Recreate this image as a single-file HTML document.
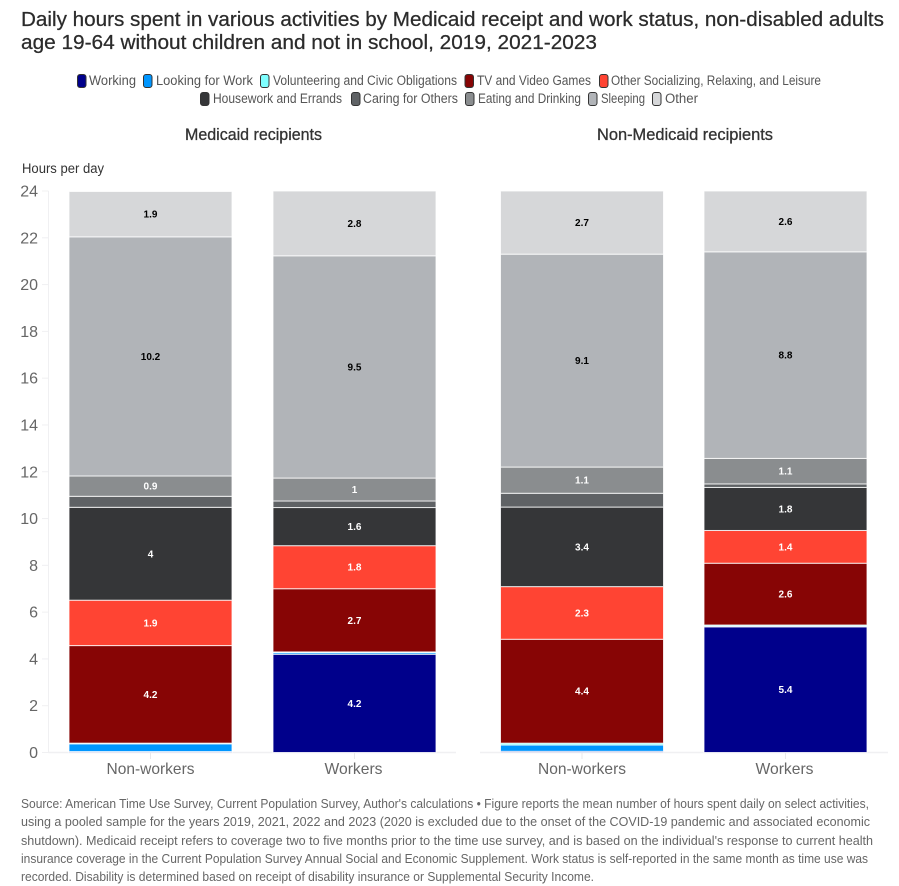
<!DOCTYPE html>
<html lang="en">
<head>
<meta charset="utf-8">
<title>Daily hours spent in various activities</title>
<style>
html,body{margin:0;padding:0;background:#fff;}
svg{display:block;font-family:"Liberation Sans",sans-serif;}
</style>
</head>
<body>
<svg id="chart" width="899" height="886" viewBox="0 0 899 886" xmlns="http://www.w3.org/2000/svg">
  <rect x="0" y="0" width="899" height="886" fill="#ffffff"/>
  <g fill="#2b2b2b" font-size="20" stroke="#2b2b2b" stroke-width="0.25">
    <text x="21" y="26" textLength="863" lengthAdjust="spacingAndGlyphs">Daily hours spent in various activities by Medicaid receipt and work status, non-disabled adults</text>
    <text x="21" y="49" textLength="576" lengthAdjust="spacingAndGlyphs">age 19-64 without children and not in school, 2019, 2021-2023</text>
  </g>
  <g font-size="13.5" fill="#555">
    <g><rect x="77.5" y="74.5" width="8.5" height="13" rx="2.5" fill="#00008b" stroke="#333"/><text x="89" y="85" textLength="47" lengthAdjust="spacingAndGlyphs">Working</text></g>
    <g><rect x="143.5" y="74.5" width="8.5" height="13" rx="2.5" fill="#0096ff" stroke="#333"/><text x="156" y="85" textLength="97" lengthAdjust="spacingAndGlyphs">Looking for Work</text></g>
    <g><rect x="260.5" y="74.5" width="8.5" height="13" rx="2.5" fill="#7fffff" stroke="#333"/><text x="273" y="85" textLength="184" lengthAdjust="spacingAndGlyphs">Volunteering and Civic Obligations</text></g>
    <g><rect x="465" y="74.5" width="8.5" height="13" rx="2.5" fill="#870505" stroke="#333"/><text x="477" y="85" textLength="114" lengthAdjust="spacingAndGlyphs">TV and Video Games</text></g>
    <g><rect x="599.5" y="74.5" width="8.5" height="13" rx="2.5" fill="#ff4433" stroke="#333"/><text x="611" y="85" textLength="210" lengthAdjust="spacingAndGlyphs">Other Socializing, Relaxing, and Leisure</text></g>
    <g><rect x="200.5" y="92.5" width="8.5" height="13" rx="2.5" fill="#353638" stroke="#333"/><text x="213" y="103" textLength="129" lengthAdjust="spacingAndGlyphs">Housework and Errands</text></g>
    <g><rect x="351.5" y="92.5" width="8.5" height="13" rx="2.5" fill="#5f6265" stroke="#333"/><text x="363" y="103" textLength="95" lengthAdjust="spacingAndGlyphs">Caring for Others</text></g>
    <g><rect x="465.5" y="92.5" width="8.5" height="13" rx="2.5" fill="#8a8d8f" stroke="#333"/><text x="478" y="103" textLength="103" lengthAdjust="spacingAndGlyphs">Eating and Drinking</text></g>
    <g><rect x="588.5" y="92.5" width="8.5" height="13" rx="2.5" fill="#b1b4b8" stroke="#333"/><text x="601" y="103" textLength="44" lengthAdjust="spacingAndGlyphs">Sleeping</text></g>
    <g><rect x="652.5" y="92.5" width="8.5" height="13" rx="2.5" fill="#d6d7d9" stroke="#333"/><text x="665" y="103" textLength="33" lengthAdjust="spacingAndGlyphs">Other</text></g>
  </g>
  <text x="185" y="140" font-size="16.5" fill="#333" stroke="#333" stroke-width="0.3" textLength="137" lengthAdjust="spacingAndGlyphs">Medicaid recipients</text>
  <text x="597" y="140" font-size="16.5" fill="#333" stroke="#333" stroke-width="0.3" textLength="176" lengthAdjust="spacingAndGlyphs">Non-Medicaid recipients</text>
  <text x="22" y="173" font-size="13.5" fill="#333" textLength="82" lengthAdjust="spacingAndGlyphs">Hours per day</text>
  <g id="axes"></g>
  <g id="bars"></g>
  <g id="value-labels"></g>
  <g font-size="13" fill="#666">
    <text x="21" y="808" textLength="848" lengthAdjust="spacingAndGlyphs">Source: American Time Use Survey, Current Population Survey, Author's calculations • Figure reports the mean number of hours spent daily on select activities,</text>
    <text x="21" y="826" textLength="849" lengthAdjust="spacingAndGlyphs">using a pooled sample for the years 2019, 2021, 2022 and 2023 (2020 is excluded due to the onset of the COVID-19 pandemic and associated economic</text>
    <text x="21" y="845" textLength="852" lengthAdjust="spacingAndGlyphs">shutdown). Medicaid receipt refers to coverage two to five months prior to the time use survey, and is based on the individual's response to current health</text>
    <text x="21" y="863" textLength="847" lengthAdjust="spacingAndGlyphs">insurance coverage in the Current Population Survey Annual Social and Economic Supplement. Work status is self-reported in the same month as time use was</text>
    <text x="21" y="881" textLength="573" lengthAdjust="spacingAndGlyphs">recorded. Disability is determined based on receipt of disability insurance or Supplemental Security Income.</text>
  </g>
</svg>
<script>
// Order of values in each series: Medicaid non-workers, Medicaid workers, Non-Medicaid non-workers, Non-Medicaid workers
const categories = ["Non-workers", "Workers", "Non-workers", "Workers"];
const working = [0.04, 4.2, 0.05, 5.37];
const lookingForWork = [0.33, 0.07, 0.27, 0.03];
const volunteering = [0.03, 0.03, 0.08, 0.05];
const tvAndGames = [4.17, 2.7, 4.44, 2.64];
const socializing = [1.94, 1.84, 2.25, 1.4];
const housework = [3.97, 1.63, 3.4, 1.84];
const caring = [0.47, 0.28, 0.59, 0.15];
const eating = [0.87, 0.98, 1.12, 1.09];
const sleeping = [10.22, 9.5, 9.1, 8.83];
const other = [1.94, 2.77, 2.7, 2.6];
const yTicks = [0, 2, 4, 6, 8, 10, 12, 14, 16, 18, 20, 22, 24];

const seriesList = [
  {name: "working", values: working, color: "#00008b", text: "#fff"},
  {name: "looking-for-work", values: lookingForWork, color: "#0096ff", text: "#fff"},
  {name: "volunteering", values: volunteering, color: "#7fffff", text: "#000"},
  {name: "tv-and-games", values: tvAndGames, color: "#870505", text: "#fff"},
  {name: "socializing", values: socializing, color: "#ff4433", text: "#fff"},
  {name: "housework", values: housework, color: "#353638", text: "#fff"},
  {name: "caring", values: caring, color: "#5f6265", text: "#fff"},
  {name: "eating", values: eating, color: "#8a8d8f", text: "#fff"},
  {name: "sleeping", values: sleeping, color: "#b1b4b8", text: "#000"},
  {name: "other", values: other, color: "#d6d7d9", text: "#000"}
];

const NS = "http://www.w3.org/2000/svg";
const plotBottom = 752.5;
const plotTop = 191;
const yMax = 24;
const barWidth = 163;
const panels = [
  {axisLeft: 48.5, axisRight: 456, start: 69, step: 204},
  {axisLeft: 480, axisRight: 888, start: 500.5, step: 203.5}
];

function yScale(v) {
  return plotBottom - (v / yMax) * (plotBottom - plotTop);
}
function barLeft(i) {
  const panel = panels[i < 2 ? 0 : 1];
  return panel.start + (i % 2) * panel.step;
}
function formatValue(v) {
  return String(Math.round(v * 10) / 10);
}
function make(tag, attrs, parent) {
  const el = document.createElementNS(NS, tag);
  for (const k in attrs) el.setAttribute(k, attrs[k]);
  parent.appendChild(el);
  return el;
}

const axesGroup = document.getElementById("axes");
const barsGroup = document.getElementById("bars");
const labelsGroup = document.getElementById("value-labels");

panels.forEach(function (panel) {
  const xAxis = make("line", {x1: panel.axisLeft, x2: panel.axisRight, y1: plotBottom, y2: plotBottom, stroke: "#f0f0f2", "stroke-width": 1.5}, axesGroup);
  
  
});
const yAxis = make("line", {x1: 48.5, x2: 48.5, y1: plotTop, y2: plotBottom, stroke: "#f0f0f2", "stroke-width": 1}, axesGroup);



yTicks.forEach(function (t) {
  const tickMark = make("line", {x1: 42, x2: 48.5, y1: yScale(t), y2: yScale(t), stroke: "#f0f0f2"}, axesGroup);
  
  
  const tickLabel = make("text", {x: 38, y: yScale(t) + 5.5, "text-anchor": "end", "font-size": 16, fill: "#666"}, axesGroup);
  
  
  tickLabel.textContent = String(t);
});

categories.forEach(function (cat, i) {
  const cx = barLeft(i) + barWidth / 2;
  const tick = make("line", {x1: cx, x2: cx, y1: plotBottom, y2: 759, stroke: "#e8e8ea"}, axesGroup);
  
  
  const label = make("text", {x: cat === "Workers" ? cx - 1 : cx, y: 774, "text-anchor": "middle", "font-size": 16, fill: "#666", textLength: cat === "Workers" ? 58 : 88, lengthAdjust: "spacingAndGlyphs"}, axesGroup);
  
  
  label.textContent = cat;

  let cum = 0;
  seriesList.forEach(function (s) {
    const v = s.values[i];
    const top = yScale(cum + v);
    const bottom = yScale(cum);
    const seg = make("rect", {x: barLeft(i), y: top, width: barWidth, height: Math.max(bottom - top, 0), fill: s.color, stroke: "#ffffff", "stroke-width": 1, "stroke-opacity": 0.8}, barsGroup);
    
    
    if (v >= 0.85) {
      const lab = make("text", {x: cx, y: (top + bottom) / 2 + 3.5, "text-anchor": "middle", "font-size": 10, "font-weight": "bold", fill: s.text}, labelsGroup);
      
      
      lab.textContent = formatValue(v);
    }
    cum += v;
  });
});
</script>
</body>
</html>
